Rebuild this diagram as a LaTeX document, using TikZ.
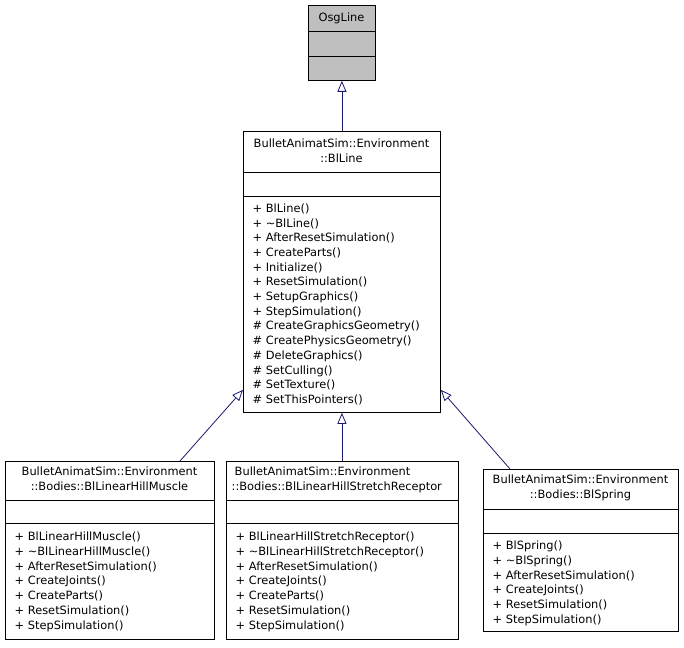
\documentclass[tikz,border=0pt]{standalone}
\usepackage{fontspec}
\setmainfont{DejaVu Sans}
\usetikzlibrary{arrows.meta,calc}
\definecolor{navy}{HTML}{191970}
\definecolor{boxgray}{HTML}{BFBFBF}
\tikzset{
  cls/.style={draw=black, line width=0.8pt, inner sep=0pt, anchor=north west},
  txt/.style={inner sep=0pt, font=\fontsize{11.4}{14.7}\selectfont},
  ctitle/.style={txt, align=center},
  members/.style={txt, align=left, anchor=north west},
  inh/.style={draw=navy, line width=0.8pt, -{Triangle[open, length=11pt, width=9pt]}}
}
\begin{document}
\begin{tikzpicture}[x=1pt,y=-1pt]
\useasboundingbox (0,0) rectangle (684,647);

% OsgLine
\node[cls, fill=boxgray, minimum width=67pt, minimum height=75pt] (osg) at (308,5) {};
\draw (osg.west |- 0,31) -- (osg.east |- 0,31);
\draw (osg.west |- 0,56) -- (osg.east |- 0,56);
\node[ctitle] (osgt) at (341.5,18) {OsgLine};

% BlLine
\node[cls, fill=white, minimum width=197pt, minimum height=281pt] (blline) at (243,131) {};
\draw (blline.west |- 0,172) -- (blline.east |- 0,172);
\draw (blline.west |- 0,196) -- (blline.east |- 0,196);
\node[ctitle] (bllinet) at (341.5,150.5) {BulletAnimatSim::Environment\\::BlLine};
\node[members] (bllinem) at (252.5,203.5) {+ BlLine()\\+ \textasciitilde BlLine()\\+ AfterResetSimulation()\\+ CreateParts()\\+ Initialize()\\+ ResetSimulation()\\+ SetupGraphics()\\+ StepSimulation()\\\# CreateGraphicsGeometry()\\\# CreatePhysicsGeometry()\\\# DeleteGraphics()\\\# SetCulling()\\\# SetTexture()\\\# SetThisPointers()};

% BlLinearHillMuscle
\node[cls, fill=white, minimum width=209pt, minimum height=178pt] (muscle) at (5,461) {};
\draw (muscle.west |- 0,500) -- (muscle.east |- 0,500);
\draw (muscle.west |- 0,523) -- (muscle.east |- 0,523);
\node[ctitle] (musclet) at (109.5,478.5) {BulletAnimatSim::Environment\\::Bodies::BlLinearHillMuscle};
\node[members] (musclem) at (14.5,532) {+ BlLinearHillMuscle()\\+ \textasciitilde BlLinearHillMuscle()\\+ AfterResetSimulation()\\+ CreateJoints()\\+ CreateParts()\\+ ResetSimulation()\\+ StepSimulation()};

% BlLinearHillStretchReceptor
\node[cls, fill=white, minimum width=232pt, minimum height=178pt] (stretch) at (226,461) {};
\draw (stretch.west |- 0,500) -- (stretch.east |- 0,500);
\draw (stretch.west |- 0,523) -- (stretch.east |- 0,523);
\node[txt, align=left, anchor=north west] (stretcht) at (231.5,467) {\hspace*{3pt}BulletAnimatSim::Environment\\::Bodies::BlLinearHillStretchReceptor};
\node[members] (stretchm) at (235.5,532) {+ BlLinearHillStretchReceptor()\\+ \textasciitilde BlLinearHillStretchReceptor()\\+ AfterResetSimulation()\\+ CreateJoints()\\+ CreateParts()\\+ ResetSimulation()\\+ StepSimulation()};

% BlSpring
\node[cls, fill=white, minimum width=195pt, minimum height=162pt] (spring) at (483,469) {};
\draw (spring.west |- 0,509) -- (spring.east |- 0,509);
\draw (spring.west |- 0,533) -- (spring.east |- 0,533);
\node[ctitle] (springt) at (580.5,487.5) {BulletAnimatSim::Environment\\::Bodies::BlSpring};
\node[members] (springm) at (492.5,541) {+ BlSpring()\\+ \textasciitilde BlSpring()\\+ AfterResetSimulation()\\+ CreateJoints()\\+ ResetSimulation()\\+ StepSimulation()};

% inheritance
\draw[inh] (blline.north) -- (osg.south);
\draw[inh] (stretch.north -| blline.south) -- (blline.south);
\draw[inh] ($(muscle.north west)+(175,0)$) -- ($(blline.south west)+(0,-23)$);
\draw[inh] ($(spring.north west)+(27,0)$) -- ($(blline.south east)+(0,-23)$);
\end{tikzpicture}
\end{document}
